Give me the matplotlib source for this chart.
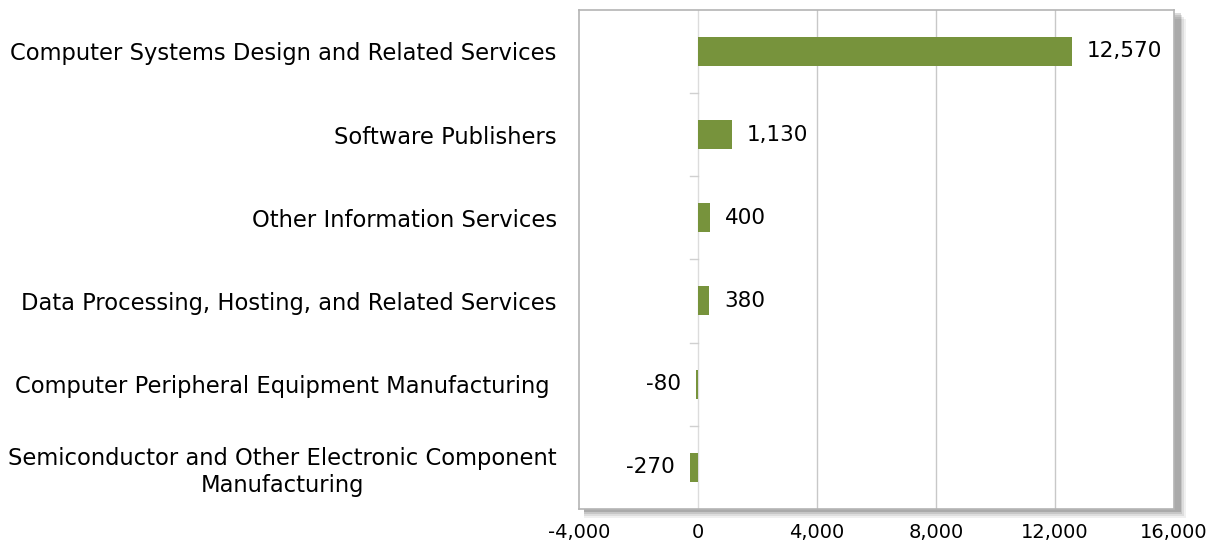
import matplotlib.pyplot as plt
from matplotlib.patches import Rectangle

plt.rcParams['font.family'] = ['DejaVu Sans']

categories = ['Computer Systems Design and Related Services',
              'Software Publishers',
              'Other Information Services',
              'Data Processing, Hosting, and Related Services',
              'Computer Peripheral Equipment Manufacturing ',
              'Semiconductor and Other Electronic Component\nManufacturing']
values = [12570, 1130, 400, 380, -80, -270]
xticks = [-4000, 0, 4000, 8000, 12000, 16000]

fig = plt.figure(figsize=(12.14, 5.46), dpi=100)
ax = fig.add_axes([0.477, 0.068, 0.49, 0.914])

# fake drop shadow behind the plot box
pos = ax.get_position()
for i, a in enumerate([0.06, 0.08, 0.10, 0.14]):
    off = (4 - i) * 0.0015
    fig.patches.append(Rectangle((pos.x0 + 0.004, pos.y0 - off * 2.2 - 0.003),
                                 pos.width + off, pos.height,
                                 transform=fig.transFigure, color='black',
                                 alpha=a, zorder=0, lw=0))

y = list(range(len(categories)))
ax.barh(y, values, height=0.35, color='#77933C', zorder=3)
ax.set_ylim(len(categories) - 0.5, -0.5)
ax.set_xlim(-4000, 16000)
ax.set_xticks(xticks)
ax.set_xticklabels([f'{t:,}' for t in xticks], fontsize=14)
ax.set_yticks(y)
ax.set_yticklabels(categories, fontsize=16.3, ha='right', multialignment='center',
                   linespacing=1.25)
ax.tick_params(axis='both', length=0)
ax.tick_params(axis='y', pad=16)
ax.tick_params(axis='x', pad=10)
ax.set_facecolor('white')
ax.set_zorder(2)

for t in xticks[1:-1]:
    ax.axvline(t, color='#c8c8c8' if t else '#dcdcdc', lw=1, zorder=1)

# small ticks at the category boundaries, left of zero line
for b in range(1, len(categories)):
    ax.plot([-280, 0], [b - 0.5, b - 0.5], color='#d0d0d0', lw=1, zorder=1)

for i, v in enumerate(values):
    if v >= 0:
        ax.text(v + 500, i, f'{v:,}', va='center', ha='left', fontsize=15.5)
    else:
        ax.text(v - 500, i, f'{v:,}', va='center', ha='right', fontsize=15.5)

for s in ax.spines.values():
    s.set_color('#b4b4b4')
    s.set_linewidth(1.2)

fig.savefig('out.png', dpi=100, facecolor='white')
